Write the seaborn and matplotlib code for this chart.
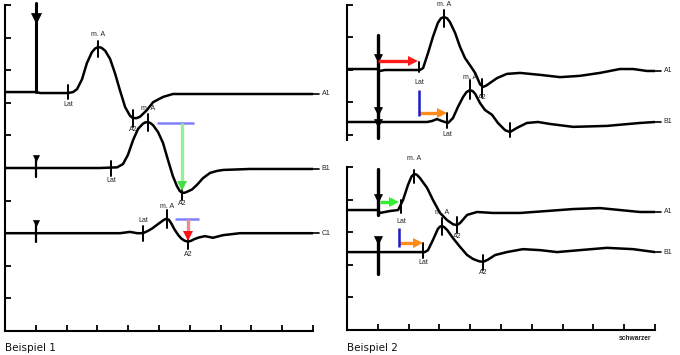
import numpy as np
import pandas as pd
import matplotlib
matplotlib.use("Agg")
import matplotlib.pyplot as plt
import seaborn as sns

# ---------------- data (x in tick units, y in tick units) ----------------
# Beispiel 1 (left panel)
L_A1_x = [0, 1.01, 1.14, 1.46, 2.05, 2.21, 2.34, 2.5, 2.66, 2.82, 2.92, 3.02, 3.13, 3.25, 3.41,
          3.57, 3.73, 3.9, 4.06, 4.16, 4.27, 4.38, 4.61, 4.81, 5.13, 5.45, 6.33, 7.95, 10.0]
L_A1_y = [7.33, 7.33, 7.30, 7.30, 7.30, 7.33, 7.42, 7.72, 8.22, 8.55, 8.66, 8.71, 8.69, 8.60,
          8.35, 7.91, 7.39, 6.87, 6.60, 6.53, 6.53, 6.57, 6.78, 7.02, 7.18, 7.27, 7.27, 7.27, 7.27]
L_B1_x = [0, 3.08, 3.64, 3.83, 3.99, 4.16, 4.32, 4.48, 4.56, 4.64, 4.72, 4.81, 4.97, 5.13,
          5.29, 5.45, 5.58, 5.67, 5.75, 5.83, 5.91, 6.07, 6.23, 6.43, 6.66, 6.88, 7.08, 7.95, 10.0]
L_B1_y = [5.0, 5.0, 5.02, 5.12, 5.40, 5.86, 6.20, 6.36, 6.40, 6.41, 6.38, 6.31, 6.10, 5.77,
          5.25, 4.75, 4.45, 4.30, 4.24, 4.24, 4.27, 4.34, 4.48, 4.69, 4.85, 4.91, 4.94, 4.97, 4.97]
L_C1_x = [0, 3.73, 4.06, 4.29, 4.48, 4.64, 4.77, 4.97, 5.13, 5.2, 5.26, 5.32, 5.40, 5.50,
          5.62, 5.72, 5.83, 5.94, 6.05, 6.15, 6.30, 6.49, 6.75, 7.08, 7.63, 10.0]
L_C1_y = [3.0, 3.0, 3.04, 3.0, 3.0, 3.07, 3.14, 3.28, 3.39, 3.43, 3.44, 3.41, 3.30, 3.12,
          2.95, 2.84, 2.77, 2.74, 2.77, 2.82, 2.87, 2.91, 2.86, 2.94, 3.0, 3.0]

# Beispiel 2, top
T_A1_x = [0, 1.01, 1.07, 1.23, 1.72, 2.21, 2.37, 2.47, 2.63, 2.79, 2.95, 3.05, 3.15, 3.25,
          3.34, 3.51, 3.67, 3.83, 3.99, 4.16, 4.32, 4.42, 4.52, 4.64, 4.87, 5.19, 5.62, 6.27,
          6.92, 7.56, 8.21, 8.86, 9.29, 9.74, 10.0]
T_A1_y = [2.03, 2.03, 1.97, 2.0, 2.0, 2.0, 2.0, 2.06, 2.52, 3.02, 3.45, 3.59, 3.63, 3.59,
          3.48, 3.14, 2.71, 2.37, 2.15, 1.91, 1.56, 1.48, 1.52, 1.60, 1.75, 1.88, 1.91, 1.85,
          1.78, 1.82, 1.91, 2.03, 2.03, 1.97, 1.97]
T_B1_x = [0, 1.01, 2.37, 2.6, 2.76, 2.92, 3.08, 3.28, 3.44, 3.6, 3.77, 3.88, 3.99, 4.08, 4.16,
          4.32, 4.48, 4.71, 4.9, 5.13, 5.29, 5.52, 5.84, 6.2, 6.59, 7.34, 8.44, 9.51, 10.0]
T_B1_y = [0.4, 0.4, 0.4, 0.4, 0.43, 0.49, 0.43, 0.37, 0.52, 0.86, 1.17, 1.32, 1.38, 1.35, 1.27,
          0.98, 0.77, 0.62, 0.37, 0.15, 0.09, 0.22, 0.37, 0.40, 0.34, 0.25, 0.28, 0.37, 0.40]

# Beispiel 2, bottom
B_A1_x = [0, 1.01, 1.07, 1.23, 1.4, 1.66, 1.82, 1.98, 2.09, 2.18, 2.27, 2.37, 2.6, 2.79, 3.02,
          3.25, 3.45, 3.57, 3.67, 3.9, 4.22, 4.74, 5.62, 6.49, 7.34, 8.21, 8.86, 9.51, 10.0]
B_A1_y = [3.68, 3.68, 3.59, 3.62, 3.65, 3.68, 3.99, 4.45, 4.70, 4.79, 4.76, 4.66, 4.36, 3.99,
          3.59, 3.37, 3.24, 3.22, 3.28, 3.53, 3.62, 3.59, 3.59, 3.65, 3.71, 3.74, 3.68, 3.62, 3.62]
B_B1_x = [0, 1.01, 2.53, 2.63, 2.79, 2.95, 3.02, 3.08, 3.15, 3.25, 3.44, 3.67, 3.9, 4.09,
          4.28, 4.42, 4.58, 4.81, 5.19, 5.71, 6.27, 6.82, 7.56, 8.44, 9.29, 10.0]
B_B1_y = [2.39, 2.39, 2.39, 2.45, 2.76, 3.10, 3.17, 3.19, 3.16, 3.07, 2.82, 2.55, 2.30, 2.18,
          2.11, 2.09, 2.16, 2.30, 2.39, 2.48, 2.45, 2.39, 2.45, 2.52, 2.48, 2.39]

# marker ticks: (x, y_low, y_high, label, label_y)
L_marks = [(2.05, 7.12, 7.55, "Lat", 6.96), (3.02, 8.40, 8.90, "m. A", 9.11),
           (4.16, 6.26, 6.78, "A2", 6.17),
           (3.44, 4.75, 5.21, "Lat", 4.63), (4.64, 6.13, 6.66, "m. A", 6.81),
           (5.75, 4.02, 4.48, "A2", 3.90),
           (4.48, 2.76, 3.22, "Lat", 3.40), (5.26, 3.16, 3.71, "m. A", 3.83),
           (5.94, 2.52, 2.91, "A2", 2.36)]
T_marks = [(2.34, 1.94, 2.25, "Lat", 1.63), (3.15, 3.32, 3.85, "m. A", 4.03),
           (4.38, 1.17, 1.72, "A2", 1.14),
           (3.25, 0.22, 0.68, "Lat", 0.03), (3.99, 1.11, 1.69, "m. A", 1.78),
           (5.29, -0.06, 0.37, "", 0)]
B_marks = [(1.75, 3.59, 3.99, "Lat", 3.34), (2.18, 4.51, 4.91, "m. A", 5.25),
           (3.57, 2.98, 3.47, "A2", 2.88),
           (2.47, 2.21, 2.67, "Lat", 2.06), (3.08, 2.91, 3.44, "m. A", 3.59),
           (4.42, 1.84, 2.30, "A2", 1.75)]

# stimulus artefacts: (x, y_low, y_high, [triangle y's], line width, triangle size)
L_stim = [(1.01, 7.33, 10.06, [9.60], 2.2, 6.5), (1.01, 4.72, 5.34, [5.30], 1.6, 5.0),
          (1.01, 2.73, 3.34, [3.30], 1.6, 5.0)]
T_stim = [(1.01, -0.09, 3.08, [2.37, 0.74, 0.37], 2.4, 6.0)]
B_stim = [(1.01, 3.53, 4.94, [4.05], 2.4, 6.0), (1.01, 1.72, 2.82, [2.76], 2.4, 5.5)]

# trace names: (label, y)
L_names = [("A1", 7.27), ("B1", 4.97), ("C1", 3.0)]
T_names = [("A1", 1.97), ("B1", 0.40)]
B_names = [("A1", 3.62), ("B1", 2.39)]

# ---------------- figure ----------------
sns.set_theme(style="white")
plt.rcParams['font.family'] = ['DejaVu Sans']

W, H = 680, 355
fig = plt.figure(figsize=(W / 100, H / 100), dpi=100)
fig.patch.set_facecolor("white")


def rect(l, t, r, b):
    return [l / W, (H - b) / H, (r - l) / W, (b - t) / H]


axL = fig.add_axes(rect(5, 5, 313, 331))
axT = fig.add_axes(rect(347, 5, 655, 140))
axB = fig.add_axes(rect(347, 167, 655, 330))

axL.set_ylim(0, 10)
axT.set_ylim(-0.154, 4.0)
axB.set_ylim(0, 5)

for ax, yt, has_bottom in [(axL, range(0, 11), True), (axT, range(0, 5), False),
                           (axB, range(0, 6), True)]:
    ax.set_xlim(0, 10)
    ax.set_facecolor("none")
    for s in ["top", "right"]:
        ax.spines[s].set_visible(False)
    ax.spines["left"].set_color("black")
    ax.spines["left"].set_linewidth(1.5)
    ax.spines["bottom"].set_visible(has_bottom)
    ax.spines["bottom"].set_color("black")
    ax.spines["bottom"].set_linewidth(1.5)
    ax.set_yticks(list(yt))
    ax.set_xticks(list(range(1, 11)) if has_bottom else [])
    ax.tick_params(direction="in", length=4, width=1.3, color="black",
                   left=True, bottom=has_bottom, labelleft=False, labelbottom=False)
    ax.grid(False)

LABEL_FONT = dict(fontsize=5, family=["Liberation Sans", "DejaVu Sans"], color="#222222")


def draw_trace(ax, xs, ys):
    df = pd.DataFrame({"x": xs, "y": ys})
    sns.lineplot(data=df, x="x", y="y", ax=ax, sort=False, estimator=None,
                 color="black", lw=1.8, solid_joinstyle="round", solid_capstyle="round")
    ax.set_xlabel("")
    ax.set_ylabel("")


def draw_marks(ax, marks):
    for x, y0, y1, lab, ly in marks:
        ax.plot([x, x], [y0, y1], color="black", lw=1.4, clip_on=False)
        if lab:
            ax.text(x, ly, lab, ha="center", va="center", **LABEL_FONT)


def draw_stim(ax, stims):
    for x, y0, y1, tris, w, ms in stims:
        ax.plot([x, x], [y0, y1], color="black", lw=w, clip_on=False)
        ax.plot([x] * len(tris), tris, ls="none", marker="v", ms=ms,
                mfc="black", mec="black", mew=0.5, clip_on=False)


def draw_names(ax, names):
    for lab, y in names:
        ax.plot([10.0, 10.2], [y, y], color="black", lw=1.2, clip_on=False)
        ax.text(10.28, y, lab, ha="left", va="center", **LABEL_FONT)


for ax, traces, marks, stims, names in [
        (axL, [(L_A1_x, L_A1_y), (L_B1_x, L_B1_y), (L_C1_x, L_C1_y)], L_marks, L_stim, L_names),
        (axT, [(T_A1_x, T_A1_y), (T_B1_x, T_B1_y)], T_marks, T_stim, T_names),
        (axB, [(B_A1_x, B_A1_y), (B_B1_x, B_B1_y)], B_marks, B_stim, B_names)]:
    for xs, ys in traces:
        draw_trace(ax, xs, ys)
    draw_marks(ax, marks)
    draw_stim(ax, stims)
    draw_names(ax, names)

# amplitude arrows (left panel): reference line, shaft, head
amp_ref = [(axL, 4.94, 6.14, 6.38), (axL, 5.52, 6.30, 3.44)]
amp_shaft = [(axL, 5.75, 6.38, 4.55, "#99ee99", "#44dd44", 4.29),
             (axL, 5.94, 3.44, 3.02, "#ee8c8c", "#ff1010", 2.76)]
for ax, x0, x1, y in amp_ref:
    ax.plot([x0, x1], [y, y], color="#8080ff", lw=1.8, solid_capstyle="butt")
for ax, x, y0, y1, c_shaft, c_head, tip in amp_shaft:
    ax.plot([x, x], [y0, y1], color=c_shaft, lw=2.4, solid_capstyle="butt")
    ax.plot([x], [tip + 0.16], marker="v", ms=7.5, mfc=c_head, mec=c_head, mew=0,
            ls="none")

# latency arrows (right panels): (ax, x_start, x_tip, y, colour)
lat_arrows = [(axT, 1.01, 2.31, 2.28, "#ff1a1a"), (axT, 2.34, 3.25, 0.68, "#ff8c1a"),
              (axB, 1.07, 1.69, 3.93, "#33ee33"), (axB, 1.69, 2.47, 2.67, "#ff8c1a")]
for ax, xs_, xt, y, c in lat_arrows:
    ax.plot([xs_, xt - 0.3], [y, y], color=c, lw=2.4, solid_capstyle="butt")
    ax.plot([xt - 0.17], [y], marker=">", ms=7.5, mfc=c, mec=c, mew=0, ls="none")

# blue onset bars (right panels): (ax, x, y0, y1)
onset_bars = [(axT, 2.34, 0.58, 1.38), (axB, 1.69, 2.55, 3.13)]
for ax, x, y0, y1 in onset_bars:
    ax.plot([x, x], [y0, y1], color="#1a1acc", lw=1.8, solid_capstyle="butt")

fig.text(5 / W, 1 - 348 / H, "Beispiel 1", ha="left", va="center", fontsize=7.5,
         color="#111111")
fig.text(347 / W, 1 - 348 / H, "Beispiel 2", ha="left", va="center", fontsize=7.5,
         color="#111111")
fig.text(635 / W, 1 - 339 / H, "schwarzer", ha="center", va="center", fontsize=4.8,
         fontweight="bold", family=["Liberation Sans", "DejaVu Sans"], color="#222222")

fig.savefig("out.png", dpi=100, facecolor="white")
